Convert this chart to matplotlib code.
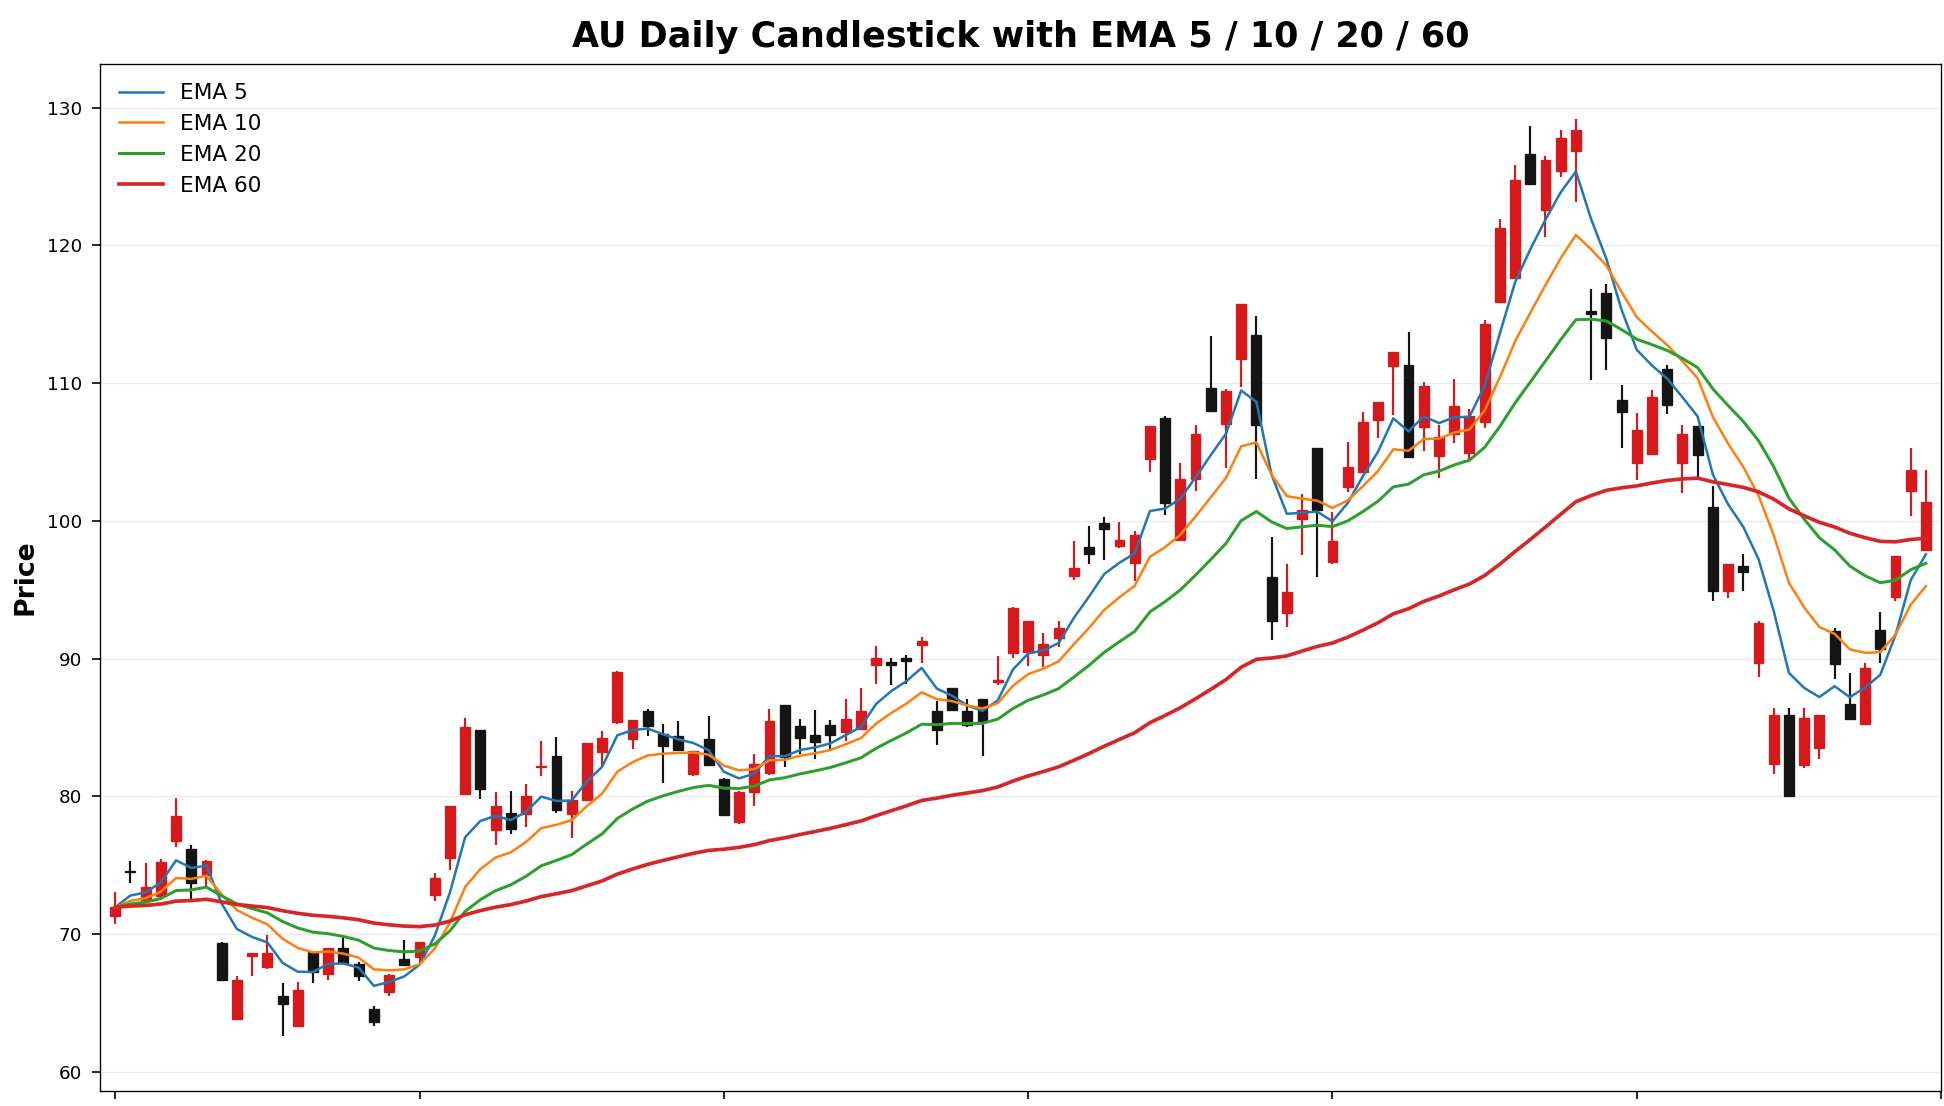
import matplotlib as mpl
mpl.use('Agg')
from matplotlib import pyplot as plt
import numpy as np
import pandas as pd

# OHLC values (red = up, black = down)
opens = [71.28, 74.6, 72.49, 72.74, 76.78, 76.2, 74.31, 69.32, 63.83, 68.38,
         67.58, 65.52, 63.34, 68.72, 67.12, 69.0, 67.85, 64.58, 65.76, 68.18,
         68.33, 72.86, 75.52, 80.19, 84.84, 77.58, 78.81, 78.74, 82.1, 82.95,
         78.74, 79.76, 83.24, 85.42, 84.19, 86.17, 84.55, 84.41, 81.65, 84.19,
         81.28, 78.14, 80.28, 81.66, 86.62, 85.11, 84.43, 85.14, 84.63, 84.86,
         89.52, 89.77, 90.03, 90.96, 86.2, 87.83, 86.2, 87.08, 88.29, 90.4,
         90.48, 90.23, 91.49, 95.97, 98.11, 99.87, 98.16, 96.95, 104.46, 107.48,
         98.61, 103.07, 109.62, 107.03, 111.76, 113.48, 95.89, 93.3, 100.1, 105.26,
         97.0, 102.48, 103.58, 107.32, 111.27, 111.31, 106.79, 104.67, 106.34, 104.93,
         107.2, 115.89, 117.61, 126.65, 122.58, 125.39, 126.83, 115.2, 116.52, 108.75,
         104.22, 104.86, 111.0, 104.22, 106.85, 100.97, 94.91, 96.72, 89.66, 82.34,
         85.87, 82.25, 83.51, 92.02, 86.68, 85.23, 92.1, 94.46, 102.14, 97.89]

closes = [71.94, 74.5, 73.44, 75.21, 78.55, 73.7, 75.28, 66.68, 66.68, 68.62,
          68.6, 64.94, 65.96, 67.22, 69.0, 67.9, 66.97, 63.58, 67.05, 67.75,
          69.44, 74.07, 79.32, 85.06, 80.56, 79.32, 77.65, 80.05, 82.2, 79.03,
          79.76, 83.87, 84.24, 89.0, 85.57, 85.13, 83.68, 83.39, 83.32, 82.3,
          78.66, 80.33, 82.34, 85.49, 82.85, 84.26, 83.93, 84.43, 85.62, 86.2,
          90.03, 89.52, 89.8, 91.24, 84.81, 86.27, 85.16, 85.44, 88.46, 93.68,
          92.7, 91.03, 92.19, 96.57, 97.61, 99.42, 98.59, 99.0, 106.85, 101.26,
          103.02, 106.27, 107.98, 109.45, 115.74, 106.98, 92.75, 94.84, 100.76, 100.81,
          98.56, 103.94, 107.15, 108.61, 112.26, 104.6, 109.78, 106.1, 108.37, 107.63,
          114.26, 121.23, 124.75, 124.48, 126.2, 127.83, 128.37, 114.99, 113.27, 107.93,
          106.58, 109.02, 108.38, 106.3, 104.77, 94.91, 96.9, 96.27, 92.56, 85.87,
          79.99, 85.69, 85.87, 89.57, 85.59, 89.3, 90.66, 97.44, 103.68, 101.33]

highs = [73.03, 75.28, 75.16, 75.47, 79.85, 76.49, 75.38, 69.44, 66.92, 68.62,
         69.95, 66.44, 66.49, 68.72, 69.0, 69.88, 67.99, 64.79, 67.12, 69.59,
         69.44, 74.43, 79.32, 85.69, 84.84, 80.34, 80.41, 80.92, 84.0, 84.29,
         80.41, 83.87, 84.72, 89.1, 85.57, 86.37, 85.28, 85.45, 83.32, 85.81,
         81.35, 80.4, 83.05, 86.37, 86.62, 85.62, 86.27, 85.52, 87.08, 87.88,
         90.91, 90.03, 90.23, 91.56, 86.95, 87.83, 87.08, 87.08, 90.15, 93.75,
         92.7, 91.86, 92.7, 98.54, 99.6, 100.25, 99.95, 99.24, 106.85, 107.6,
         104.21, 106.93, 113.4, 109.55, 115.74, 114.86, 98.79, 96.9, 101.94, 105.26,
         100.61, 105.72, 107.9, 108.61, 112.26, 113.72, 110.07, 106.98, 110.29, 108.15,
         114.6, 121.95, 125.84, 128.64, 126.47, 128.37, 129.19, 116.8, 117.16, 109.83,
         107.84, 109.47, 111.28, 106.94, 106.85, 102.5, 96.9, 97.62, 92.74, 86.41,
         86.41, 86.41, 85.87, 92.2, 88.94, 89.66, 93.37, 97.44, 105.31, 103.68]

lows = [70.73, 73.7, 72.37, 72.49, 76.32, 72.54, 73.46, 66.61, 63.78, 66.97,
        67.46, 62.57, 63.29, 66.44, 66.63, 67.9, 66.59, 63.34, 65.52, 67.7,
        67.9, 72.37, 74.67, 80.12, 79.83, 76.46, 77.26, 77.8, 81.5, 78.79,
        76.97, 79.76, 82.18, 85.28, 83.46, 84.41, 80.97, 83.39, 81.45, 82.18,
        78.6, 78.0, 79.32, 81.54, 82.1, 83.05, 82.67, 83.25, 84.0, 84.81,
        88.14, 88.09, 88.14, 89.67, 83.75, 86.2, 85.06, 82.9, 88.09, 90.05,
        89.47, 89.35, 90.81, 95.72, 96.85, 97.15, 98.04, 95.64, 103.58, 100.43,
        98.61, 102.19, 107.98, 103.83, 109.75, 103.0, 91.36, 92.32, 97.53, 95.94,
        96.86, 102.12, 103.58, 105.99, 107.71, 104.6, 105.04, 103.14, 105.66, 104.44,
        106.76, 115.89, 117.61, 124.48, 120.6, 125.0, 123.13, 110.19, 110.92, 105.31,
        102.96, 104.86, 107.75, 102.05, 103.05, 94.19, 94.37, 94.91, 88.67, 81.61,
        79.99, 82.07, 82.7, 88.49, 85.59, 85.23, 89.66, 94.19, 100.33, 97.89]

ema_spans = [5, 10, 20, 60]
ema_colors = ['tab:blue', 'tab:orange', 'tab:green', 'tab:red']
ema_widths = [1.5, 1.5, 1.8, 2.2]

df = pd.DataFrame({'open': opens, 'high': highs, 'low': lows, 'close': closes})
x = np.arange(len(df))

UP = '#d7191c'
DOWN = '#141414'

fig = plt.figure(figsize=(1945 / 120, 1106 / 120), dpi=120)
ax = fig.add_subplot(111)
fig.subplots_adjust(left=0.0514, right=0.998, top=0.9425, bottom=0.0136)

colors = [UP if c >= o else DOWN for o, c in zip(df['open'], df['close'])]
ax.vlines(x, df['low'], df['high'], colors=colors, linewidth=1.3, zorder=2)
body_bottom = np.minimum(df['open'], df['close'])
body_height = np.maximum(np.abs(df['close'] - df['open']), 0.08)
ax.bar(x, body_height, bottom=body_bottom, width=0.65, color=colors,
       edgecolor=colors, linewidth=0.8, zorder=3)

for span, col, lw in zip(ema_spans, ema_colors, ema_widths):
    ema = df['close'].ewm(span=span, adjust=False).mean()
    ax.plot(x, ema, color=col, linewidth=lw, label='EMA %d' % span, zorder=4)

ax.set_xlim(-1, len(df))
ax.set_ylim(58.6, 133.2)
ax.set_xticks(range(0, len(df) + 1, 20))
ax.set_xticklabels([])
ax.set_yticks(range(60, 131, 10))
ax.tick_params(axis='both', labelsize=11, length=5, pad=5.5, width=1)
ax.grid(axis='y', color='#e6e6e6', linewidth=0.8, alpha=0.8)
ax.set_axisbelow(True)

ax.set_ylabel('Price', fontsize=16, fontweight='bold', labelpad=5)
ax.set_title('AU Daily Candlestick with EMA 5 / 10 / 20 / 60', fontsize=21,
             fontweight='bold', pad=10)
ax.legend(loc='upper left', frameon=False, fontsize=13)

plt.savefig('out.png', dpi=120)
plt.close()
